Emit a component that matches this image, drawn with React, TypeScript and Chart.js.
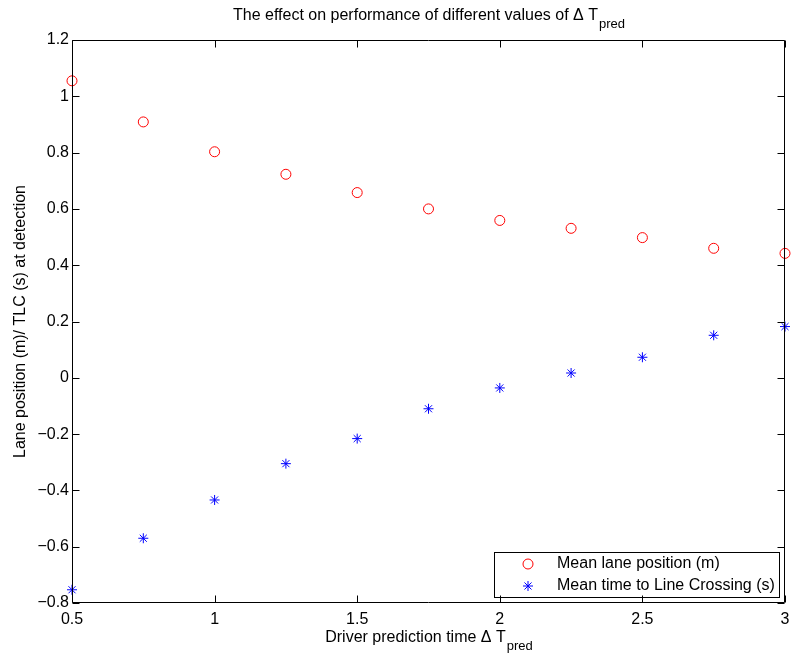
import React, { useEffect, useRef } from "react";
import { Chart, registerables } from "chart.js";

Chart.register(...registerables);

// ---- data ----
const xValues = [0.5, 0.75, 1, 1.25, 1.5, 1.75, 2, 2.25, 2.5, 2.75, 3];
const laneMean = [1.055, 0.909, 0.803, 0.723, 0.658, 0.6, 0.559, 0.531, 0.498, 0.46, 0.442];
const tlcMean = [-0.753, -0.57, -0.434, -0.305, -0.216, -0.11, -0.036, 0.017, 0.073, 0.151, 0.182];
const seriesLabels = ["Mean lane position (m)", "Mean time to Line Crossing (s)"];
const titleMain = "The effect on performance of different values of \u0394 T";
const titleSub = "pred";
const xLabelMain = "Driver prediction time \u0394 T";
const xLabelSub = "pred";
const yLabelText = "Lane position (m)/ TLC (s) at detection";
const xMin = 0.5;
const xMax = 3;
const xStep = 0.5;
const yMin = -0.8;
const yMax = 1.2;
const yStep = 0.2;

const FONT = '"Liberation Sans", Arial, Helvetica, sans-serif';
const RED = "#ff0000";
const BLUE = "#0000ff";

function fmt(v: number): string {
  const r = Math.round(v * 10) / 10;
  if (Math.abs(r) < 1e-9) return "0";
  const s = String(r);
  return s.replace("-", "\u2212");
}

function drawSubText(ctx: CanvasRenderingContext2D, main: string, sub: string, cx: number, baseline: number) {
  ctx.font = `16px ${FONT}`;
  const wMain = ctx.measureText(main).width;
  ctx.font = `13px ${FONT}`;
  const wSub = ctx.measureText(sub).width;
  const x0 = cx - (wMain + wSub) / 2;
  ctx.textAlign = "left";
  ctx.textBaseline = "alphabetic";
  ctx.font = `16px ${FONT}`;
  ctx.fillText(main, x0, baseline);
  ctx.font = `13px ${FONT}`;
  ctx.fillText(sub, x0 + wMain + 1, baseline + 8);
}

function drawCircle(ctx: CanvasRenderingContext2D, x: number, y: number, r: number, color: string) {
  ctx.beginPath();
  ctx.strokeStyle = color;
  ctx.lineWidth = 1;
  ctx.arc(x, y, r, 0, Math.PI * 2);
  ctx.stroke();
}

function drawStar(ctx: CanvasRenderingContext2D, x: number, y: number, r: number, color: string) {
  ctx.beginPath();
  ctx.strokeStyle = color;
  ctx.lineWidth = 1;
  ctx.moveTo(x - r, y);
  ctx.lineTo(x + r, y);
  ctx.moveTo(x, y - r);
  ctx.lineTo(x, y + r);
  const d = r * Math.SQRT1_2;
  ctx.moveTo(x - d, y - d);
  ctx.lineTo(x + d, y + d);
  ctx.moveTo(x - d, y + d);
  ctx.lineTo(x + d, y - d);
  ctx.stroke();
}

const matlabPlugin = {
  id: "matlabAxes",
  afterDatasetsDraw(chart: any) {
    const { ctx, chartArea: a, scales } = chart;
    const xs = scales.x;
    const ys = scales.y;
    const L = Math.round(a.left) + 0.5;
    const R = Math.round(a.right) - 0.5;
    const T = Math.round(a.top) + 0.5;
    const B = Math.round(a.bottom) - 0.5;
    const tick = 7;
    ctx.save();

    // legend box (drawn over data)
    const lgL = 494.5, lgT = 552.5, lgR = 779.5, lgB = 597.5;
    ctx.fillStyle = "#ffffff";
    ctx.fillRect(lgL, lgT, lgR - lgL, lgB - lgT);
    ctx.strokeStyle = "#000";
    ctx.lineWidth = 1;
    ctx.strokeRect(lgL, lgT, lgR - lgL, lgB - lgT);
    drawCircle(ctx, 528, 564, 5, RED);
    drawStar(ctx, 528, 586, 5, BLUE);
    ctx.fillStyle = "#000";
    ctx.font = `16px ${FONT}`;
    ctx.textAlign = "left";
    ctx.textBaseline = "middle";
    ctx.fillText(seriesLabels[0], 557, 564);
    ctx.fillText(seriesLabels[1], 557, 586);

    // frame
    ctx.strokeStyle = "#000";
    ctx.lineWidth = 1;
    ctx.beginPath();
    ctx.moveTo(L, T);
    ctx.lineTo(R, T);
    ctx.lineTo(R, B);
    ctx.lineTo(L, B);
    ctx.closePath();
    ctx.stroke();

    // x ticks
    ctx.beginPath();
    xs.ticks.forEach((t: any) => {
      const px = Math.round(xs.getPixelForValue(t.value)) + 0.5;
      ctx.moveTo(px, B);
      ctx.lineTo(px, B - tick);
      ctx.moveTo(px, T);
      ctx.lineTo(px, T + tick);
    });
    ys.ticks.forEach((t: any) => {
      const py = Math.round(ys.getPixelForValue(t.value)) + 0.5;
      ctx.moveTo(L, py);
      ctx.lineTo(L + tick, py);
      ctx.moveTo(R, py);
      ctx.lineTo(R - tick, py);
    });
    ctx.stroke();

    // tick labels
    ctx.fillStyle = "#000";
    ctx.font = `16px ${FONT}`;
    ctx.textAlign = "center";
    ctx.textBaseline = "alphabetic";
    xs.ticks.forEach((t: any) => {
      const px = xs.getPixelForValue(t.value);
      ctx.fillText(fmt(t.value), px, a.bottom + 21);
    });
    ctx.textAlign = "right";
    ctx.textBaseline = "middle";
    ys.ticks.forEach((t: any) => {
      const py = ys.getPixelForValue(t.value);
      ctx.fillText(fmt(t.value), a.left - 3, py);
    });

    // title & x label
    const cx = (a.left + a.right) / 2;
    drawSubText(ctx, titleMain, titleSub, cx, 20);
    drawSubText(ctx, xLabelMain, xLabelSub, cx, 642);

    // y label
    ctx.save();
    ctx.translate(21, (a.top + a.bottom) / 2);
    ctx.rotate(-Math.PI / 2);
    ctx.font = `16px ${FONT}`;
    ctx.textAlign = "center";
    ctx.textBaseline = "middle";
    ctx.fillText(yLabelText, 0, 0);
    ctx.restore();

    ctx.restore();
  },
};

export default function App() {
  const canvasRef = useRef<HTMLCanvasElement | null>(null);

  useEffect(() => {
    const canvas = canvasRef.current;
    if (!canvas) return;
    const chart = new Chart(canvas, {
      type: "scatter",
      data: {
        datasets: [
          {
            label: seriesLabels[0],
            data: xValues.map((x, i) => ({ x, y: laneMean[i] })),
            pointStyle: "circle",
            pointRadius: 5,
            pointBorderWidth: 1,
            borderColor: RED,
            backgroundColor: "rgba(0,0,0,0)",
            showLine: false,
            clip: false as any,
          },
          {
            label: seriesLabels[1],
            data: xValues.map((x, i) => ({ x, y: tlcMean[i] })),
            pointStyle: "star",
            pointRadius: 5,
            pointBorderWidth: 1,
            borderColor: BLUE,
            backgroundColor: BLUE,
            showLine: false,
            clip: false as any,
          },
        ],
      },
      options: {
        responsive: false,
        animation: false,
        events: [],
        layout: { padding: { left: 72, top: 40, right: 4, bottom: 51 } },
        plugins: {
          legend: { display: false },
          title: { display: false },
          tooltip: { enabled: false },
        },
        scales: {
          x: {
            type: "linear",
            display: false,
            min: xMin,
            max: xMax,
            ticks: { stepSize: xStep },
          },
          y: {
            type: "linear",
            display: false,
            min: yMin,
            max: yMax,
            ticks: { stepSize: yStep },
          },
        },
      },
      plugins: [matlabPlugin],
    });
    return () => chart.destroy();
  }, []);

  return (
    <div style={{ position: "fixed", left: 0, top: 0, width: 791, height: 654, background: "#fff" }}>
      <canvas ref={canvasRef} width={791} height={654} style={{ display: "block", width: 791, height: 654 }} />
    </div>
  );
}
